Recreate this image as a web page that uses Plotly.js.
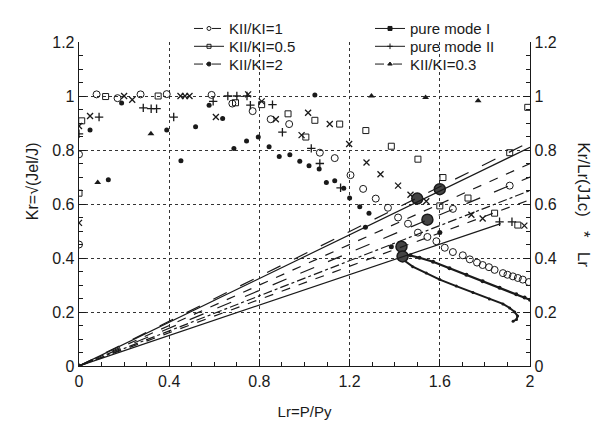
<!DOCTYPE html>
<html><head><meta charset="utf-8">
<script src="https://cdn.plot.ly/plotly-3.0.1.min.js"></script>
<style>html,body{margin:0;padding:0;background:#fff}#chart{width:597px;height:431px}</style>
</head><body><div id="chart"></div>
<script>
// ---- data ----
// KII/KI=1 (open circles)
const k1X = [0.0,0.0,0.078,0.171,0.273,0.389,0.588,0.68,0.77,0.85,0.932,1.068,1.134,1.204,1.26,1.316,1.37,1.415,1.459,1.503,1.545,1.585,1.622,1.658,1.702,1.733,1.765,1.79,1.818,1.843,1.88,1.90,1.924,1.946,1.968,1.995,1.658,1.91];
const k1Y = [0.45,0.784,1.006,0.992,1.006,1.007,1.004,0.972,0.944,0.914,0.896,0.79,0.77,0.707,0.656,0.62,0.586,0.55,0.527,0.494,0.478,0.462,0.438,0.422,0.41,0.395,0.383,0.374,0.366,0.356,0.344,0.338,0.332,0.326,0.32,0.311,0.582,0.668];
// KII/KI=0.5 (open squares)
const k05X = [0.0,0.012,0.118,0.351,0.694,0.81,0.927,1.006,1.046,1.156,1.272,1.385,1.503,1.614,1.6,1.725,1.843,1.91,1.946,1.99];
const k05Y = [0.64,0.908,0.998,1.0,0.975,0.968,0.934,0.848,0.91,0.896,0.872,0.814,0.766,0.698,0.593,0.622,0.566,0.79,0.522,0.958];
// KII/KI=2 (filled dots)
const k2X = [0.049,0.13,0.189,0.389,0.452,0.517,0.577,0.637,0.687,0.743,0.795,0.843,0.888,0.935,0.979,1.02,1.046,1.065,1.097,1.134,1.174,1.2,1.245,1.27,1.286,1.385,1.6];
const k2Y = [0.874,0.69,0.974,0.874,0.76,0.886,0.966,0.917,0.806,0.833,0.848,0.812,0.776,0.782,0.758,0.742,1.004,0.73,0.68,0.686,0.658,0.622,0.59,0.514,0.566,0.442,0.494];
// pure mode I (cross markers)
const pm1X = [0.0,0.0,0.049,0.2,0.236,0.45,0.47,0.49,0.607,0.75,0.81,0.873,0.987,1.016,1.112,1.198,1.275,1.337,1.415,1.47,1.54,1.74,1.79,1.975];
const pm1Y = [0.53,0.889,0.926,1.0,0.986,1.0,1.0,1.0,0.922,1.006,0.98,0.914,0.855,0.938,0.896,0.822,0.754,0.71,0.668,0.634,0.61,0.56,0.546,0.52];
// pure mode II (plus markers)
const pm2X = [0.0,0.089,0.285,0.32,0.344,0.42,0.595,0.66,0.7,0.745,0.76,0.858,0.902,1.03,1.068,1.16,1.865,1.92];
const pm2Y = [0.86,0.922,0.956,0.953,0.953,0.922,0.98,1.0,1.0,1.0,0.966,0.968,0.866,0.806,0.75,0.66,0.534,0.534];
// KII/KI=0.3 (triangles)
const k03X = [0.0,0.083,0.319,1.297,1.537,1.77];
const k03Y = [0.0,0.68,0.86,1.0,0.994,0.982];
// dense computed curves
const curveAX = [1.44,1.47,1.51,1.57,1.643,1.718,1.79,1.865,1.939,1.976,2.0];
const curveAY = [0.415,0.41,0.401,0.386,0.362,0.338,0.314,0.29,0.266,0.254,0.245];
const curveBX = [1.43,1.48,1.54,1.6,1.673,1.747,1.82,1.88,1.91,1.932,1.945,1.94,1.925];
const curveBY = [0.398,0.368,0.344,0.32,0.296,0.272,0.248,0.23,0.215,0.2,0.185,0.172,0.166];
// load lines from the origin (right axis): slope, end Lr, dash
const loadSlope = [0.415,0.405,0.375,0.35,0.325,0.308,0.282];
const loadEnd   = [2.0,2.0,2.0,2.0,2.0,2.0,1.87];
const loadDash  = ['longdash','solid','dash','longdash','dashdot','dash','solid'];
// intersection points (big dots)
const crossX = [1.50,1.60,1.545,1.43,1.435];
const crossY = [0.62,0.655,0.542,0.442,0.406];
// legend entries
const legNames = ['KII/KI=1','KII/KI=0.5','KII/KI=2','pure mode I','pure mode II','KII/KI=0.3'];
const legSym   = ['circle-open','square-open','circle','square','cross-thin-open','triangle-up'];
const legDash  = ['dash','solid','dashdot','solid','solid','dash'];

const ink = '#1a1a1a';
const traces = [];
loadSlope.forEach((s,i)=>{
  traces.push({x:[0,loadEnd[i]], y:[0,s*loadEnd[i]], yaxis:'y2', mode:'lines', showlegend:false,
    line:{color:ink,width:1.2,dash:loadDash[i]}, hoverinfo:'skip'});
});
function mk(x,y,sym,size,lw){
  traces.push({x:x,y:y,mode:'markers',showlegend:false,
    marker:{symbol:sym,size:size,color:ink,line:{color:ink,width:lw}}});
}
mk(k1X,k1Y,'circle-open',7,1);
mk(k05X,k05Y,'square-open',6,1);
mk(k2X,k2Y,'circle',5,0);
mk(pm1X,pm1Y,'x-thin-open',6,1.3);
mk(pm2X,pm2Y,'cross-thin-open',6,1.3);
mk(k03X,k03Y,'triangle-up',6,0);
traces.push({x:curveAX,y:curveAY,mode:'lines+markers',showlegend:false,line:{color:ink,width:2.2},marker:{size:4,color:ink}});
traces.push({x:curveBX,y:curveBY,mode:'lines+markers',showlegend:false,line:{color:ink,width:2},marker:{size:3,color:ink}});
traces.push({x:crossX,y:crossY,mode:'markers',showlegend:false,marker:{symbol:'circle',size:11,color:'#444',line:{color:ink,width:1.5}}});

const fam = 'Liberation Sans, Arial, sans-serif';
const legendKeys = ['legend','legend2','legend3','legend4','legend5','legend6'];
legNames.forEach((n,i)=>{
  traces.push({x:[null],y:[null],name:n,mode:'lines+markers',legend:legendKeys[i],
    line:{color:ink,width:1,dash:legDash[i]},
    marker:{symbol:legSym[i],size:4,color:ink,line:{color:ink,width:1}}});
});

const font = {family:fam, size:16, color:ink};
const axBase = {range:[0,1.2], dtick:0.2, tick0:0, ticks:'inside', ticklen:7, tickwidth:1, tickcolor:ink,
  showline:true, linecolor:ink, linewidth:1.3, zeroline:false, tickfont:font,
  minor:{dtick:0.05, ticks:'inside', ticklen:4, tickcolor:ink, showgrid:false}};
const layout = {
  width:597, height:431, paper_bgcolor:'#fff', plot_bgcolor:'#fff',
  margin:{l:79, r:67, t:32, b:65}, font:font,
  xaxis:{range:[0,2], dtick:0.4, tick0:0, ticks:'inside', ticklen:7, tickcolor:ink, showline:true, linecolor:ink, linewidth:1.3,
    zeroline:false, tickfont:font, showgrid:true, gridcolor:'#333', griddash:'dot', gridwidth:1,
    minor:{dtick:0.1, ticks:'inside', ticklen:4, tickcolor:ink, showgrid:false},
    title:{text:'Lr=P/Py', font:{family:fam,size:15,color:ink}, standoff:18}},
  yaxis:Object.assign({}, axBase, {showgrid:true, gridcolor:'#333', griddash:'dot', gridwidth:1}),
  yaxis2:Object.assign({}, axBase, {overlaying:'y', side:'right', showgrid:false}),
  annotations:[
    {text:'Kr=√(Jel/J)', xref:'paper', yref:'paper', x:-0.103, y:0.569, textangle:-90, showarrow:false, font:{family:fam,size:16,color:ink}, xanchor:'center', yanchor:'middle'},
    {text:'Kr/Lr(J1c)   *   Lr', xref:'paper', yref:'paper', x:1.117, y:0.497, textangle:90, showarrow:false, font:{family:fam,size:17,color:ink}, xanchor:'center', yanchor:'middle'}
  ],
  showlegend:true
};
// six single-entry legends laid out as 2 columns x 3 rows
const legColX = [189,189,189,370,370,370];
const legRowY = [18.3,36.7,55,18.3,36.7,55];
legendKeys.forEach((k,i)=>{
  layout[k] = {x:(legColX[i]-79)/451, xanchor:'left', y:(366-legRowY[i])/334, yanchor:'middle',
    bgcolor:'rgba(0,0,0,0)', font:{family:fam,size:15,color:ink}};
});
Plotly.newPlot('chart', traces, layout, {staticPlot:true, displayModeBar:false});
</script></body></html>
